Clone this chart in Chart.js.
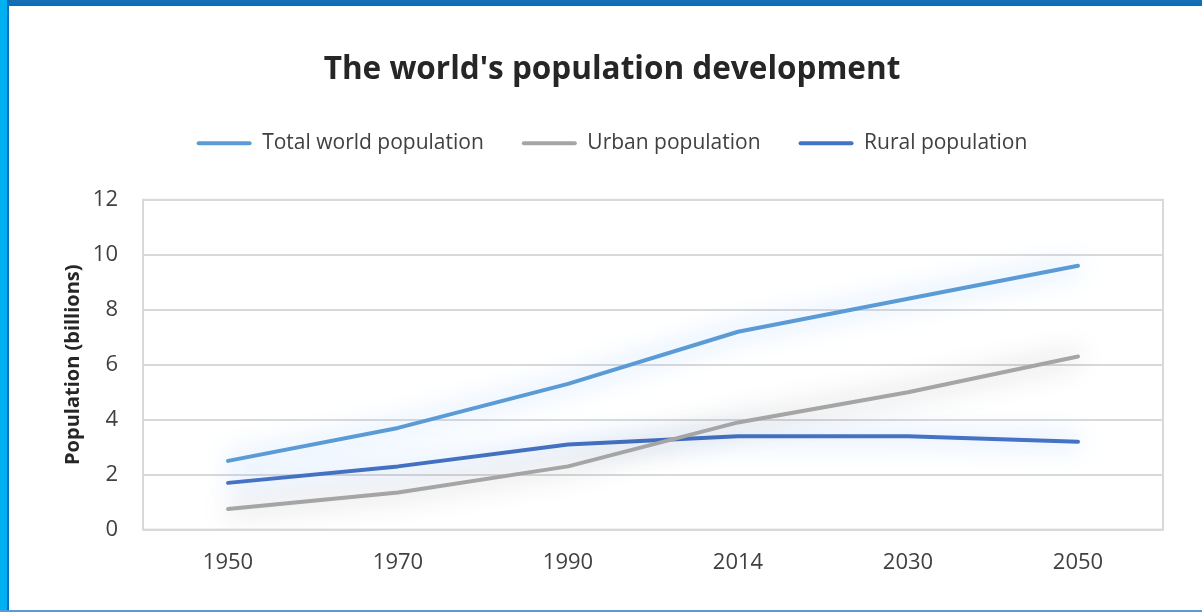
<!DOCTYPE html>
<html>
<head>
<meta charset="utf-8">
<script src="https://cdn.jsdelivr.net/npm/chart.js@4"></script>
<style>
  html, body { margin: 0; padding: 0; background: #fff; }
  .frame { position: relative; width: 1202px; height: 612px; overflow: hidden; }
  canvas { position: absolute; left: 0; top: 0; }
  .topBar { position: absolute; left: 0; top: 0; width: 1202px; height: 6px; background: linear-gradient(#1a6db0, #0070c0); }
  .leftBar { position: absolute; left: 0; top: 0; width: 7px; height: 612px; background: #00b0f0; border-right: 2px solid #0070c0; }
  .bottomLine { position: absolute; left: 0; top: 610px; width: 1202px; height: 2px; background: #5b9bd5; }
</style>
</head>
<body>
<div class="frame">
  <canvas id="myChart" width="1202" height="612"></canvas>
  <div class="topBar"></div>
  <div class="leftBar"></div>
  <div class="bottomLine"></div>
</div>
<script>
const years = ['1950', '1970', '1990', '2014', '2030', '2050'];
const total_population = [2.5, 3.7, 5.3, 7.2, 8.4, 9.6];
const urban_population = [0.75, 1.35, 2.3, 3.9, 5.0, 6.3];
const rural_population = [1.7, 2.3, 3.1, 3.4, 3.4, 3.2];

const FONT = "'Open Sans', sans-serif";

// soft glow under each line, like the office chart effect
const glowPlugin = {
  id: 'glow',
  beforeDatasetDraw(chart, args) {
    const ds = chart.data.datasets[args.index];
    chart.ctx.save();
    chart.ctx.shadowColor = ds.glowColor;
    chart.ctx.shadowBlur = 28;
  },
  afterDatasetDraw(chart) {
    chart.ctx.restore();
  },
};

const plotBorder = {
  id: 'plotBorder',
  beforeDatasetsDraw(chart) {
    const { ctx, chartArea } = chart;
    ctx.save();
    ctx.strokeStyle = '#d9d9d9';
    ctx.lineWidth = 2;
    ctx.strokeRect(chartArea.left, chartArea.top, chartArea.right - chartArea.left, chartArea.bottom - chartArea.top);
    ctx.restore();
  },
};

// more room between legend and plot
const legendSpace = {
  id: 'legendSpace',
  beforeInit(chart) {
    const originalFit = chart.legend.fit;
    chart.legend.fit = function fit() {
      originalFit.bind(chart.legend)();
      this.height += 36;
    };
  },
};

const ctx = document.getElementById('myChart').getContext('2d');

const chart = new Chart(ctx, {
  type: 'line',
  data: {
    labels: years,
    datasets: [
      {
        label: 'Total world population',
        data: total_population,
        borderColor: '#5b9bd5',
        backgroundColor: '#5b9bd5',
        glowColor: 'rgba(140, 190, 255, 1)',
      },
      {
        label: 'Urban population',
        data: urban_population,
        borderColor: '#a5a5a5',
        backgroundColor: '#a5a5a5',
        glowColor: 'rgba(0, 0, 0, 0.38)',
      },
      {
        label: 'Rural population',
        data: rural_population,
        borderColor: '#4472c4',
        backgroundColor: '#4472c4',
        glowColor: 'rgba(140, 185, 255, 1)',
      },
    ],
  },
  options: {
    responsive: false,
    animation: false,
    elements: {
      line: { borderWidth: 4, tension: 0, borderCapStyle: 'round', borderJoinStyle: 'round' },
      point: { radius: 0 },
    },
    layout: {
      padding: { left: 61, right: 39, top: 0, bottom: 16 },
    },
    scales: {
      x: {
        offset: true,
        grid: { display: false, drawTicks: false },
        border: { display: false },
        ticks: {
          padding: 20,
          color: '#404040',
          font: { family: FONT, size: 22 },
        },
      },
      y: {
        min: 0,
        max: 12,
        afterFit: (scale) => {
          scale.width = 82;
        },
        grid: { color: '#d9d9d9', lineWidth: 2, drawTicks: false },
        border: { display: false },
        ticks: {
          stepSize: 2,
          padding: 25,
          color: '#404040',
          font: { family: FONT, size: 22 },
        },
        title: {
          display: true,
          text: 'Population (billions)',
          color: '#262626',
          padding: 0,
          font: { family: FONT, size: 20, weight: 'bold' },
        },
      },
    },
    plugins: {
      title: {
        display: true,
        text: "The world's population development",
        color: '#262626',
        padding: { top: 51, bottom: 6 },
        font: { family: FONT, size: 31.5, weight: 'bold' },
      },
      legend: {
        display: true,
        labels: {
          color: '#404040',
          boxWidth: 55,
          boxHeight: 4,
          padding: 38,
          font: { family: FONT, size: 21 },
          generateLabels: (c) =>
            c.data.datasets.map((ds, i) => ({
              text: ds.label,
              fillStyle: ds.borderColor,
              strokeStyle: ds.borderColor,
              lineWidth: 0,
              borderRadius: 2,
              datasetIndex: i,
              fontColor: '#404040',
            })),
        },
      },
      tooltip: { enabled: false },
    },
  },
  plugins: [glowPlugin, plotBorder, legendSpace],
});
</script>
</body>
</html>
